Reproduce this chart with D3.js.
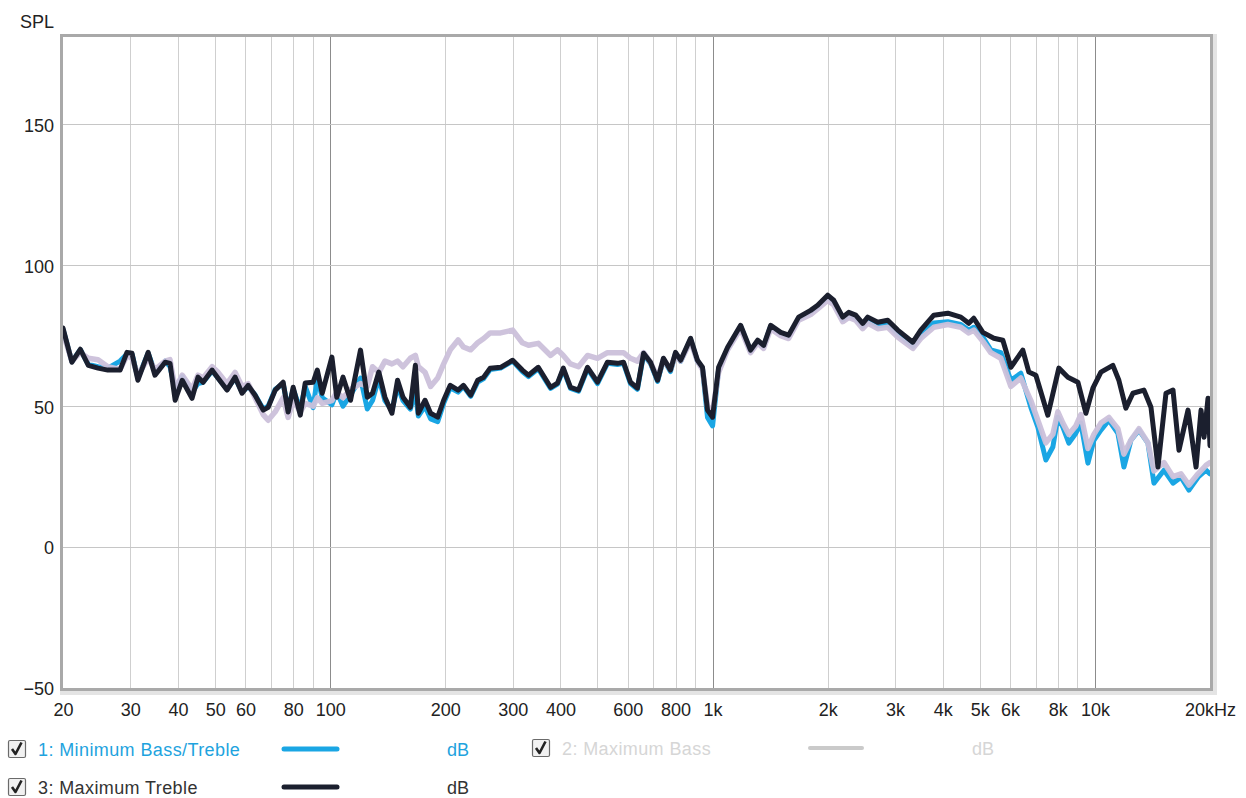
<!DOCTYPE html>
<html><head><meta charset="utf-8">
<script src="https://cdn.jsdelivr.net/npm/d3@7"></script>
<style>
html,body{margin:0;padding:0;background:#fff;}
svg{display:block;font-family:"Liberation Sans",Arial,sans-serif;}
</style></head>
<body>
<svg id="chart" width="1246" height="798"></svg>
<script>
// ---- data ----
const xTickValues = [20,30,40,50,60,80,100,200,300,400,600,800,1000,2000,3000,4000,5000,6000,8000,10000,20000];
const xTickLabels = ["20","30","40","50","60","80","100","200","300","400","600","800","1k","2k","3k","4k","5k","6k","8k","10k","20kHz"];
const yTickValues = [-50,0,50,100,150];
const seriesNames = ["1: Minimum Bass/Treble","2: Maximum Bass","3: Maximum Treble"];

const minBassTreble = [[20,77.2],[21.1,65.8],[22.2,70],[23.3,64.8],[24.7,64],[26.2,63.5],[28.2,66],[29.4,68.5],[30.3,68.5],[31.4,60],[33.4,68.8],[34.8,62],[37,66],[38.1,64],[39.3,56],[41,60.5],[43.5,55],[45.1,58],[46.5,58.5],[49.1,62.5],[50.9,60],[53.7,56],[56.4,60],[58.8,55],[61,57],[63.6,54],[66.8,49],[68.8,50],[71.8,56],[75.3,58],[77.6,49],[80,56],[83.5,49],[86,57],[90.2,49.5],[92.5,60],[95.3,53],[101,50.5],[104,55],[108,50],[113,54],[120,60],[125,49],[129,52],[134,60],[139,52],[145,48.5],[150,57],[155,52],[162,49],[167,55],[170,46.5],[177,50],[183,45.5],[191,44.5],[198,51],[206,56.5],[216,55],[223,57],[233,53.5],[243,58.5],[252,59.8],[262,63],[279,63.5],[300,66],[318,62.3],[330,60.5],[350,63.3],[377,56.3],[393,57.8],[407,63],[425,56.3],[446,55.3],[471,63.3],[500,58],[531,65.2],[564,64.8],[585,65.2],[610,58],[636,56],[660,68.3],[688,65.2],[718,58.8],[744,66.6],[776,62.3],[800,68.7],[825,65.9],[876,73.7],[913,65.9],[941,63.4],[970,46],[1000,43],[1037,63],[1095,70.5],[1184,78.3],[1257,69.5],[1312,73],[1360,71.2],[1419,78.3],[1507,75.8],[1581,74.8],[1679,81],[1805,83.5],[1883,85.2],[2000,88.8],[2074,87],[2190,80.8],[2270,82.3],[2368,81.3],[2470,78.4],[2546,80.4],[2704,78.5],[2872,79],[3050,75.5],[3340,71.3],[3504,75],[3790,79.5],[4124,80],[4460,79],[4678,77],[4822,78],[5092,74.5],[5342,70],[5676,69],[6028,59.2],[6400,61.7],[6798,49.6],[7092,42.6],[7442,30.9],[7762,35.5],[8000,46.1],[8246,42.6],[8548,36.9],[8916,40.4],[9190,44],[9588,29.8],[9940,37.9],[10368,41.5],[10880,45],[11484,40.4],[11908,28.4],[12422,37.9],[13036,41.5],[13764,36.9],[14270,22.7],[15158,27.3],[16004,22.7],[16794,24.8],[17620,20.2],[18610,24.8],[19522,27.3],[20000,26]];

const maxBass = [[20,76],[21.1,66],[22.2,69],[23.3,67],[24.7,66.5],[26.2,64],[28.2,63],[29.4,68],[30.3,67],[31.4,61],[33.4,67],[34.8,63],[37,66],[38.1,66.5],[39.3,56],[41,61],[43.5,56],[45.1,61],[46.5,60],[49.1,64],[50.9,62],[53.7,58],[56.4,62],[58.8,57],[61,58],[63.6,53],[66.8,47],[68.8,45],[71.8,48],[75.3,53],[77.6,46],[80,52],[83.5,48],[86,51],[90.2,50],[92.5,53],[95.3,51],[101,52],[104,55],[108,53],[113,56],[120,58],[125,57],[129,64],[134,62],[139,66],[145,65],[150,66],[155,64],[162,67],[167,68],[170,64],[177,62],[183,57],[191,60],[198,65],[206,70],[216,73.5],[223,71],[233,70],[243,72.5],[252,74],[262,76],[279,76],[300,77],[318,72.5],[330,71.6],[350,72.3],[377,68],[393,70],[407,68],[425,65],[446,64],[471,68],[500,67],[531,69],[564,69],[585,69],[610,67],[636,66],[660,69],[688,65.6],[718,60],[744,66.5],[776,63],[800,68.5],[825,66],[876,73],[913,66],[941,63],[970,50],[1000,48],[1037,62],[1095,70],[1184,77.5],[1257,69],[1312,72.5],[1360,70.5],[1419,77.5],[1507,75],[1581,74],[1679,80.5],[1805,82.5],[1883,84.5],[2000,87.5],[2074,86],[2190,80],[2270,81.5],[2368,80.5],[2470,77.5],[2546,79.5],[2704,77.5],[2872,78],[3050,74.5],[3340,70.5],[3504,74],[3790,78],[4124,79],[4460,78],[4678,76],[4822,77],[5092,73],[5342,69],[5676,67],[6028,57],[6400,60],[6798,52],[7092,45],[7442,37],[7762,40],[8000,48],[8246,44],[8548,40],[8916,43],[9190,47],[9588,35],[9940,40],[10368,44],[10880,46],[11484,42],[11908,33],[12422,38],[13036,42],[13764,37],[14270,27],[15158,30],[16004,25],[16794,26],[17620,22],[18610,26],[19522,29],[20000,30]];

const maxTreble = [[20,77.7],[21.1,65.6],[22.2,70.2],[23.3,64.5],[24.7,63.5],[26.2,62.8],[28.2,62.8],[29.4,69.1],[30.3,68.8],[31.4,59.2],[33.4,69.1],[34.8,61],[37,65.6],[38.1,65.2],[39.3,52.1],[41,59.2],[43.5,52.8],[45.1,60.3],[46.5,58.5],[49.1,62.8],[50.9,59.9],[53.7,55.7],[56.4,60.3],[58.8,54.6],[61,57.4],[63.6,53.9],[66.8,48.6],[68.8,49.6],[71.8,55.7],[75.3,58.5],[77.6,47.9],[80,56.7],[83.5,46.8],[86,58.2],[90.2,58.5],[92.5,62.8],[95.3,54.6],[101,67.4],[104,53.2],[108,60.3],[113,52.1],[120,69.9],[125,53.2],[129,54.6],[134,62.1],[139,53.2],[145,47.5],[150,59.2],[155,53.2],[162,49.6],[167,64.5],[170,47.5],[177,52.1],[183,47.5],[191,46.1],[198,52.1],[206,57.4],[216,55.7],[223,57.4],[233,53.9],[243,59.2],[252,60.3],[262,63.5],[279,63.8],[300,66.3],[318,62.8],[330,61],[350,63.8],[377,56.7],[393,58.2],[407,63.5],[425,56.7],[446,55.7],[471,63.8],[500,58.5],[531,65.6],[564,65.2],[585,65.6],[610,58.5],[636,56.4],[660,68.8],[688,65.6],[718,59.2],[744,67],[776,62.8],[800,69.1],[825,66.3],[876,74.1],[913,66.3],[941,63.8],[970,48.6],[1000,46.1],[1037,63.8],[1095,70.9],[1184,78.7],[1257,69.9],[1312,73.4],[1360,71.6],[1419,78.7],[1507,76.2],[1581,75.2],[1679,81.6],[1805,84],[1883,85.8],[2000,89.4],[2074,87.6],[2190,81.6],[2270,83.3],[2368,82.3],[2470,79.4],[2546,81.6],[2704,79.8],[2872,80.5],[3050,77],[3340,72.7],[3504,77],[3790,82.3],[4124,83],[4460,81.6],[4678,79.4],[4822,81.2],[5092,76.2],[5440,74.1],[5744,73.4],[6028,63.8],[6478,69.9],[6718,62.1],[7008,61],[7532,46.8],[8048,63.5],[8498,60.3],[9026,58.5],[9472,47.5],[9880,56.4],[10368,62.1],[11142,64.5],[11552,59.2],[12050,49.3],[12570,54.6],[13436,55.7],[14016,49.6],[14620,28.4],[15342,54.6],[16004,55.7],[16592,34.4],[17520,48.6],[18388,28.4],[18948,48.6],[19294,39],[19762,52.8],[20000,36]];

// ---- drawing ----
const svg = d3.select("#chart");
const L = 63, R = 1210, T = 37, B = 688;
const x = d3.scaleLog().domain([20, 20000]).range([L, R]);
const y = d3.scaleLinear().domain([-50, 181]).range([B, T]);
const FONT = 18;

// frame shadow + border
svg.append("rect").attr("x", L-1).attr("y", T-1).attr("width", R-L+6).attr("height", B-T+6)
  .attr("fill", "none").attr("stroke", "#e4e4e4").attr("stroke-width", 4);
svg.append("rect").attr("x", L).attr("y", T).attr("width", R-L).attr("height", B-T).attr("fill", "#fff");

// grid
const minorF = [];
for (let d = 10; d <= 10000; d *= 10) for (let k = 1; k <= 9; k++) { const f = d*k; if (f > 20 && f < 20000) minorF.push(f); }
const majorF = [100, 1000, 10000];
svg.append("g").selectAll("line").data(minorF.filter(f => !majorF.includes(f))).join("line")
  .attr("x1", d => Math.round(x(d))+0.5).attr("x2", d => Math.round(x(d))+0.5).attr("y1", T).attr("y2", B)
  .attr("stroke", "#cfcfcf").attr("stroke-width", 1);
svg.append("g").selectAll("line").data(majorF).join("line")
  .attr("x1", d => Math.round(x(d))+0.5).attr("x2", d => Math.round(x(d))+0.5).attr("y1", T).attr("y2", B)
  .attr("stroke", "#8c8c8c").attr("stroke-width", 1);
svg.append("g").selectAll("line").data(yTickValues.filter(v => v > -50)).join("line")
  .attr("x1", L).attr("x2", R).attr("y1", d => Math.round(y(d))+0.5).attr("y2", d => Math.round(y(d))+0.5)
  .attr("stroke", "#c6c6c6").attr("stroke-width", 1);

// series
svg.append("clipPath").attr("id", "plotclip").append("rect")
  .attr("x", L).attr("y", T).attr("width", R-L).attr("height", B-T);
const line = d3.line().x(d => x(d[0])).y(d => y(d[1])).curve(d3.curveLinear);
const g = svg.append("g").attr("clip-path", "url(#plotclip)");
const seriesDefs = [
  {data: minBassTreble, color: "#1aa6e4", w: 5, op: 1},
  {data: maxBass, color: "#cbc0da", w: 5.5, op: 0.95},
  {data: maxTreble, color: "#1b1f2e", w: 5, op: 1}
];
seriesDefs.forEach(s => {
  g.append("path").datum(s.data).attr("d", line).attr("fill", "none")
    .attr("stroke", s.color).attr("stroke-width", s.w).attr("stroke-opacity", s.op)
    .attr("stroke-linejoin", "round").attr("stroke-linecap", "round");
});

// border
svg.append("rect").attr("x", L-1.5).attr("y", T-1.5).attr("width", R-L+3).attr("height", B-T+3)
  .attr("fill", "none").attr("stroke", "#a9a9a9").attr("stroke-width", 3);

// axes (d3 axes, domain hidden, used for labels)
const xAxis = d3.axisBottom(x).tickValues(xTickValues).tickFormat((d, i) => xTickLabels[i]).tickSize(0).tickPadding(12);
const gx = svg.append("g").attr("transform", `translate(0,${B+3})`).call(xAxis);
gx.select(".domain").remove();
gx.selectAll("text").attr("font-size", FONT).attr("font-family", '"Liberation Sans",Arial,sans-serif').attr("fill", "#222");

const yAxis = d3.axisLeft(y).tickValues(yTickValues).tickFormat(d3.format("d")).tickSize(0).tickPadding(8);
const gy = svg.append("g").attr("transform", `translate(${L-1},0)`).call(yAxis);
gy.select(".domain").remove();
gy.selectAll("text").attr("font-size", FONT).attr("font-family", '"Liberation Sans",Arial,sans-serif').attr("fill", "#222")
  .attr("dy", "0.38em");

svg.append("text").attr("x", 20).attr("y", 28).attr("font-size", FONT).attr("fill", "#222").text("SPL");

// legend
function checkbox(cx, cy) {
  const gg = svg.append("g").attr("transform", `translate(${cx},${cy})`);
  gg.append("rect").attr("x", 0.5).attr("y", 0.5).attr("width", 17).attr("height", 17).attr("rx", 1.5)
    .attr("fill", "#f1f1f1").attr("stroke", "#6a6a6a").attr("stroke-width", 1.2);
  gg.append("path").attr("d", "M4,9 L7.5,14 L13.5,2.5").attr("fill", "none").attr("stroke", "#222")
    .attr("stroke-width", 2.6).attr("stroke-linejoin", "round");
}
const legendRows = [
  {i: 0, x0: 8, y0: 749, color: "#1aa6e4", text: "#1ea3de", lx1: 284, lx2: 337, dbx: 447, sw: 5},
  {i: 1, x0: 532, y0: 748, color: "#cacaca", text: "#d6d6d6", lx1: 810, lx2: 862, dbx: 972, sw: 4},
  {i: 2, x0: 8, y0: 787, color: "#1b1f2e", text: "#333333", lx1: 284, lx2: 337, dbx: 447, sw: 5}
];
legendRows.forEach(r => {
  checkbox(r.x0, r.y0 - 9);
  svg.append("text").attr("x", r.x0 + 30).attr("y", r.y0 + 6.5).attr("font-size", 18).attr("fill", r.text)
    .attr("letter-spacing", 0.4).text(seriesNames[r.i]);
  svg.append("line").attr("x1", r.lx1).attr("x2", r.lx2).attr("y1", r.y0).attr("y2", r.y0)
    .attr("stroke", r.color).attr("stroke-width", r.sw).attr("stroke-linecap", "round");
  svg.append("text").attr("x", r.dbx).attr("y", r.y0 + 6.5).attr("font-size", 18).attr("fill", r.text).text("dB");
});
</script>
</body></html>
